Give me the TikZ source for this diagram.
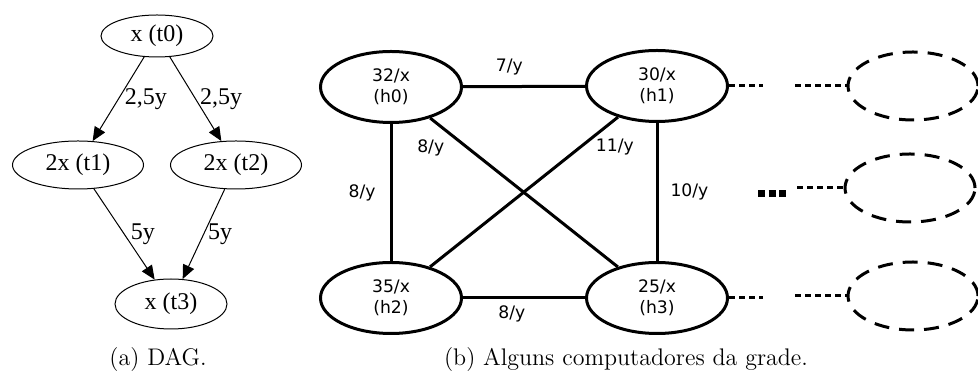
\documentclass[tikz,border=0pt]{standalone}
\usepackage{fontspec}
\usepackage{tikz}
\usetikzlibrary{arrows.meta,shapes.geometric}
\newfontfamily\dagfont{Liberation Serif}
\newfontfamily\gridfont{DejaVu Sans}

\begin{document}
\begin{tikzpicture}[x=0.5pt,y=0.5pt,yscale=-1,xscale=1,
  dagnode/.style={draw, ellipse, line width=0.5pt, inner sep=0pt, font=\dagfont\fontsize{12}{14}\selectfont},
  dagarrow/.style={line width=0.5pt, -{Triangle[length=7pt,width=6pt]}},
  daglabel/.style={font=\dagfont\fontsize{12}{14}\selectfont, inner sep=1pt},
  hostnode/.style={draw, ellipse, line width=1.5pt, inner sep=0pt, minimum width=70.5pt, minimum height=35.5pt, align=center, font=\gridfont\fontsize{8.6}{10.5}\selectfont},
  farnode/.style={draw, ellipse, line width=1.5pt, inner sep=0pt, minimum width=65pt, minimum height=34pt, dash pattern=on 7.5pt off 5pt},
  hostlink/.style={line width=1.5pt},
  hostlabel/.style={font=\gridfont\fontsize{8.6}{10}\selectfont, inner sep=1pt},
  dotlink/.style={line width=1.5pt, dash pattern=on 3pt off 2pt},
  caption/.style={font=\fontsize{12}{14}\selectfont}]
\useasboundingbox (0,0) rectangle (978,383);

% DAG nodes
\draw (157,36) node [dagnode, minimum width=56pt, minimum height=21pt] (t0) {x (t0)};
\draw (78,165) node [dagnode, minimum width=65.5pt, minimum height=24pt] (t1) {2x (t1)};
\draw (236,165) node [dagnode, minimum width=65.5pt, minimum height=24pt] (t2) {2x (t2)};
\draw (171,304) node [dagnode, minimum width=56pt, minimum height=25pt] (t3) {x (t3)};

% DAG arrows
\draw [dagarrow] (t0) -- node [daglabel, pos=0.5, anchor=west, xshift=2pt] {2,5y} (t1);
\draw [dagarrow] (t0) -- node [daglabel, pos=0.5, anchor=west, xshift=1pt] {2,5y} (t2);
\draw [dagarrow] (t1) -- node [daglabel, pos=0.5, anchor=west, xshift=2pt] {5y} (t3);
\draw [dagarrow] (t2) -- node [daglabel, pos=0.5, anchor=west, xshift=1pt] {5y} (t3);

% Hosts
\draw (391,87) node [hostnode] (h0) {32/x\\(h0)};
\draw (657,86) node [hostnode] (h1) {30/x\\(h1)};
\draw (391,298) node [hostnode] (h2) {35/x\\(h2)};
\draw (657,298) node [hostnode] (h3) {25/x\\(h3)};

% Links between hosts
\draw [hostlink] (h0) -- node [hostlabel, pos=0.38, above=4pt] {7/y} (h1);
\draw [hostlink] (h0) -- node [hostlabel, midway, left=6pt] {8/y} (h2);
\draw [hostlink] (h0) -- node [hostlabel, pos=0.2, left=10pt] {8/y} (h3);
\draw [hostlink] (h1) -- node [hostlabel, pos=0.2, right=6pt] {11/y} (h2);
\draw [hostlink] (h1) -- node [hostlabel, midway, right=5pt] {10/y} (h3);
\draw [hostlink] (h2) -- node [hostlabel, pos=0.4, below=2pt] {8/y} (h3);

% Remaining hosts of the grid
\draw (913,86) node [farnode] (hx1) {};
\draw (910,188) node [farnode] (hx2) {};
\draw (913,296) node [farnode] (hx3) {};

\coordinate (d1a) at (763,86);
\coordinate (d1b) at (795,86);
\coordinate (d2a) at (758,194);
\coordinate (d2b) at (786,194);
\coordinate (d2c) at (797,188);
\coordinate (d3a) at (763,298);
\coordinate (d3b) at (795,296);

\draw [dotlink] (h1.east) -- (d1a);
\draw [dotlink] (d1b) -- (hx1.west);
\draw [line width=3.5pt, dash pattern=on 3.5pt off 1.75pt] (d2a) -- (d2b);
\draw [dotlink] (d2c) -- (hx2.west);
\draw [dotlink] (h3.east) -- (d3a);
\draw [dotlink] (d3b) -- (hx3.west);

% Captions
\draw (158,360) node [caption] (capa) {(a) DAG.};
\draw (626,360) node [caption] (capb) {(b) Alguns computadores da grade.};
\end{tikzpicture}
\end{document}
